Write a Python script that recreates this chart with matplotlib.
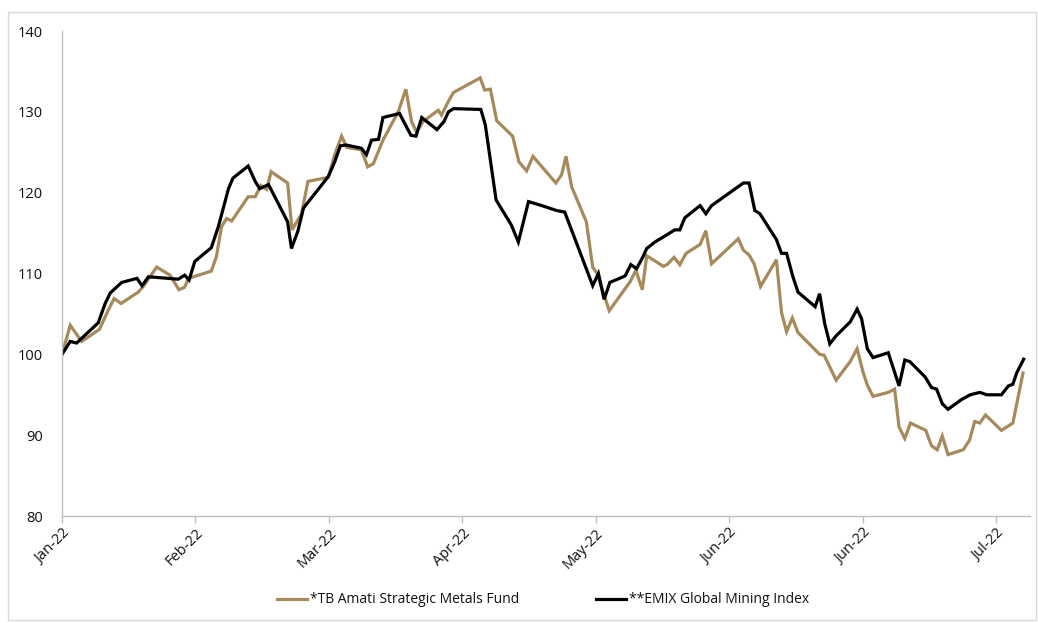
import matplotlib
matplotlib.use("Agg")
import matplotlib.pyplot as plt
from matplotlib.patches import Rectangle

# trading-day index (from start of Jan-22) and rebased value
fund_day = [0.0, 1.3, 3.1, 5.9, 7.3, 8.2, 9.3, 12.0, 12.8, 14.9, 17.0, 18.4, 19.3, 19.9,
            23.5, 24.3, 25.1, 25.9, 26.7, 29.3, 30.4, 31.3, 32.2, 32.9, 35.5, 36.2, 37.7,
            38.7, 41.9, 42.9, 44.0, 44.8, 47.1, 48.1, 49.0, 50.5, 52.9, 54.1, 55.0, 55.8,
            56.8, 59.2, 59.7, 60.8, 61.6, 65.8, 66.5, 67.4, 68.4, 70.9, 71.9, 73.1, 74.1,
            77.7, 78.6, 79.3, 80.2, 82.5, 83.5, 84.2, 86.1, 89.4, 90.3, 91.3, 92.0, 94.6,
            95.2, 96.3, 97.2, 98.2, 100.4, 101.3, 102.2, 106.4, 107.2, 108.1, 108.9, 109.9,
            112.4, 113.2, 114.0, 114.9, 115.8, 119.2, 119.9, 121.8, 124.0, 125.1, 126.0,
            126.7, 127.6, 130.0, 131.0, 131.7, 132.6, 133.5, 135.9, 136.8, 137.7, 138.5,
            139.4, 141.8, 142.8, 143.6, 144.4, 145.3, 147.8, 149.6, 151.2]
fund_val = [100.0, 103.6, 101.6, 103.1, 105.5, 106.9, 106.3, 107.7, 108.4, 110.8, 109.8, 108.0, 108.3, 109.4,
            110.3, 112.1, 115.8, 116.8, 116.5, 119.5, 119.5, 120.9, 120.4, 122.6, 121.2, 115.4, 117.4,
            121.4, 121.9, 124.7, 127.0, 125.6, 125.3, 123.2, 123.6, 126.5, 130.0, 132.8, 128.8, 127.5,
            128.8, 130.2, 129.6, 131.3, 132.4, 134.2, 132.7, 132.8, 128.9, 127.0, 123.8, 122.7, 124.5,
            121.2, 122.2, 124.5, 120.7, 116.4, 110.8, 110.0, 105.4, 109.0, 110.4, 108.0, 112.2, 110.9,
            111.1, 112.0, 111.1, 112.5, 113.6, 115.3, 111.2, 114.3, 112.9, 112.3, 111.2, 108.4,
            111.7, 105.2, 102.8, 104.5, 102.7, 100.0, 99.9, 96.8, 99.1, 100.7, 97.9,
            96.2, 94.8, 95.3, 95.7, 91.0, 89.6, 91.5, 90.6, 88.7, 88.2, 89.9,
            87.6, 88.2, 89.4, 91.7, 91.5, 92.5, 90.6, 91.5, 97.7]

index_day = [0.0, 1.3, 2.3, 5.7, 6.8, 7.6, 9.4, 11.8, 12.6, 13.6, 18.3, 19.3, 20.0, 20.9,
             23.5, 24.6, 26.2, 26.9, 29.3, 30.4, 31.1, 32.5, 35.5, 36.1, 37.1, 38.0, 41.9,
             42.9, 43.8, 44.7, 47.1, 47.9, 48.7, 49.8, 50.5, 53.1, 54.9, 55.7, 56.6, 59.0,
             60.1, 60.8, 61.6, 65.9, 66.6, 68.3, 70.7, 71.8, 73.4, 75.5, 77.8, 79.1, 83.5,
             84.4, 85.3, 86.2, 88.6, 89.5, 90.4, 91.3, 92.0, 93.3, 95.4, 96.4, 97.2, 98.0,
             100.4, 101.3, 102.2, 107.2, 108.1, 109.0, 109.8, 112.4, 113.2, 114.0, 115.0,
             115.8, 118.5, 119.2, 120.0, 120.8, 121.8, 124.0, 125.1, 125.8, 126.7, 127.6,
             130.0, 131.7, 132.6, 133.4, 135.8, 136.8, 137.6, 138.5, 139.4, 141.5, 142.9,
             144.4, 145.5, 147.8, 148.9, 149.6, 150.2, 151.3]
index_val = [100.0, 101.6, 101.4, 103.9, 106.3, 107.6, 108.9, 109.4, 108.5, 109.6, 109.3, 109.8, 109.2, 111.5,
             113.2, 115.8, 120.5, 121.8, 123.3, 121.4, 120.5, 121.0, 116.4, 113.1, 115.2, 118.1, 122.0,
             123.8, 125.8, 125.9, 125.5, 124.7, 126.5, 126.6, 129.3, 129.8, 127.1, 127.0, 129.3, 127.8,
             128.8, 130.0, 130.4, 130.3, 128.4, 119.1, 116.0, 113.9, 118.9, 118.4, 117.8, 117.6, 108.5,
             110.0, 106.8, 108.9, 109.7, 111.1, 110.6, 111.9, 113.1, 113.9, 114.9, 115.4, 115.4, 116.9,
             118.4, 117.4, 118.4, 121.2, 121.2, 117.8, 117.4, 114.2, 112.5, 112.5, 109.6,
             107.7, 105.9, 107.5, 103.8, 101.3, 102.3, 104.0, 105.6, 104.4, 100.7, 99.6,
             100.2, 96.1, 99.3, 99.1, 97.2, 95.9, 95.7, 93.9, 93.2, 94.4, 95.0,
             95.3, 95.0, 95.0, 96.1, 96.3, 97.7, 99.4]

tick_days = [0, 21, 42, 63, 84, 105, 126, 147]
tick_labels = ["Jan-22", "Feb-22", "Mar-22", "Apr-22", "May-22", "Jun-22", "Jun-22", "Jul-22"]

GOLD = "#A68A5B"
AXIS = "#BFBFBF"
TXT = "#111111"

plt.rcParams['font.family'] = ['Open Sans', 'DejaVu Sans']

fig = plt.figure(figsize=(10.38, 6.23), dpi=100)
ax = fig.add_axes([0.0597, 0.1717, 0.9326, 0.7785])

ax.plot(fund_day, fund_val, color=GOLD, lw=2.3, label="*TB Amati Strategic Metals Fund",
        solid_joinstyle='miter')
ax.plot(index_day, index_val, color="black", lw=2.3, label="**EMIX Global Mining Index",
        solid_joinstyle='miter')

ax.set_xlim(0, 152.3)
ax.set_ylim(80, 140)
ax.set_yticks(range(80, 141, 10))
ax.set_xticks(tick_days)
ax.set_xticklabels(tick_labels, rotation=45, ha='right', rotation_mode='anchor')

for s in ['top', 'right']:
    ax.spines[s].set_visible(False)
for s in ['left', 'bottom']:
    ax.spines[s].set_color(AXIS)
    ax.spines[s].set_linewidth(1)

ax.tick_params(axis='y', length=0, pad=14, labelsize=10.5, labelcolor=TXT)
ax.tick_params(axis='x', length=5, width=1, color=AXIS, pad=2, labelsize=10.5, labelcolor=TXT)

fig.legend(loc='center', bbox_to_anchor=(0.523, 0.037), ncol=2, frameon=False,
           fontsize=10, handlelength=2.2, handletextpad=0.2, columnspacing=5.5, labelcolor=TXT)

fig.add_artist(Rectangle((8 / 1038, 3 / 623), 1028 / 1038, 608 / 623, transform=fig.transFigure,
                         fill=False, edgecolor="#D9D9D9", lw=1))

fig.savefig("out.png", dpi=100)
